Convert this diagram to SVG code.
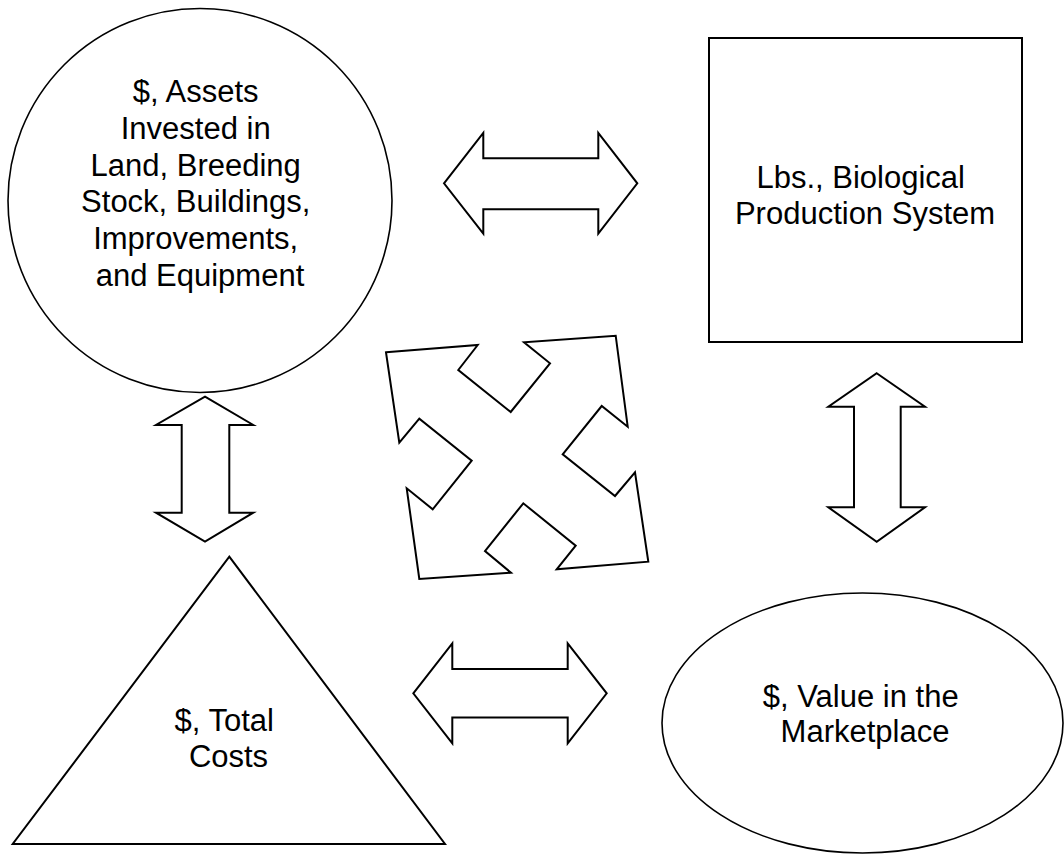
<svg xmlns="http://www.w3.org/2000/svg" width="1064" height="855" viewBox="0 0 1064 855">
  <style>
    .shape { fill: #ffffff; stroke: #000000; stroke-width: 2; stroke-linejoin: miter; }
    .thin { stroke-width: 1.6; }
    .label { font-family: "Liberation Sans", Arial, sans-serif; font-size: 31px; fill: #000000; text-anchor: middle; }
  </style>
  <rect width="1064" height="855" fill="#ffffff"/>

  <!-- Assets circle -->
  <g id="node-assets">
    <circle class="shape thin" cx="200" cy="200.5" r="192"/>
    <text class="label" x="200">
      <tspan x="200" y="101.7">$, Assets</tspan>
      <tspan x="200" y="138.6">Invested in</tspan>
      <tspan x="200" y="175.5">Land, Breeding</tspan>
      <tspan x="200" y="212.4">Stock, Buildings,</tspan>
      <tspan x="200" y="249.3">Improvements,</tspan>
      <tspan x="200" y="286.2">and Equipment</tspan>
    </text>
  </g>

  <!-- Biological production square -->
  <g id="node-production">
    <rect class="shape" x="709" y="38" width="313" height="304"/>
    <text class="label">
      <tspan x="865" y="188.3">Lbs., Biological</tspan>
      <tspan x="865" y="224">Production System</tspan>
    </text>
  </g>

  <!-- Total costs triangle -->
  <g id="node-costs">
    <polygon class="shape" points="229.3,556.7 445,844 12.7,844"/>
    <text class="label">
      <tspan x="228.5" y="730.7">$, Total</tspan>
      <tspan x="228.5" y="766.7">Costs</tspan>
    </text>
  </g>

  <!-- Market value ellipse -->
  <g id="node-market">
    <ellipse class="shape thin" cx="862.5" cy="723" rx="200.5" ry="130"/>
    <text class="label">
      <tspan x="865" y="706.7">$, Value in the</tspan>
      <tspan x="865" y="741.7">Marketplace</tspan>
    </text>
  </g>

  <!-- Block arrows linking the four nodes -->
  <g id="connectors">
    <polygon id="arrow-assets-production" class="shape" points="444,183.3 483.3,133 483.3,158.3 598.3,158.3 598.3,133 637.3,183.3 598.3,233.6 598.3,209.3 483.3,209.3 483.3,233.6"/>
    <polygon id="arrow-costs-market" class="shape" points="413.3,693.3 452.3,643.3 452.3,669 567.7,669 567.7,643.3 606.7,693.3 567.7,743.3 567.7,717.6 452.3,717.6 452.3,743.3"/>
    <polygon id="arrow-assets-costs" class="shape" points="205,396.7 253.3,425 229.3,425 229.3,512.7 253.3,512.7 205,541.7 156,512.7 181.7,512.7 181.7,425 156,425"/>
    <polygon id="arrow-production-market" class="shape" points="876.7,373.3 925,406.7 900.7,406.7 900.7,507.3 925,507.3 876.7,541.7 828.3,507.3 854,507.3 854,406.7 828.3,406.7"/>
    <polygon id="arrow-crossing" class="shape" points="386,352.3 477.7,345 458.3,370 510.7,412 550,363.3 524,342.3 615.7,335.7 627.7,426.7 601.7,406 562.7,454.3 615,496 635,472.3 648.3,561.7 556.7,569.3 575.7,545.7 523.3,503.3 485,551 511,572.7 419.3,579 406.7,488.3 432.7,509.3 471.7,460.7 419.3,418.7 399.3,442.7"/>
  </g>
</svg>
